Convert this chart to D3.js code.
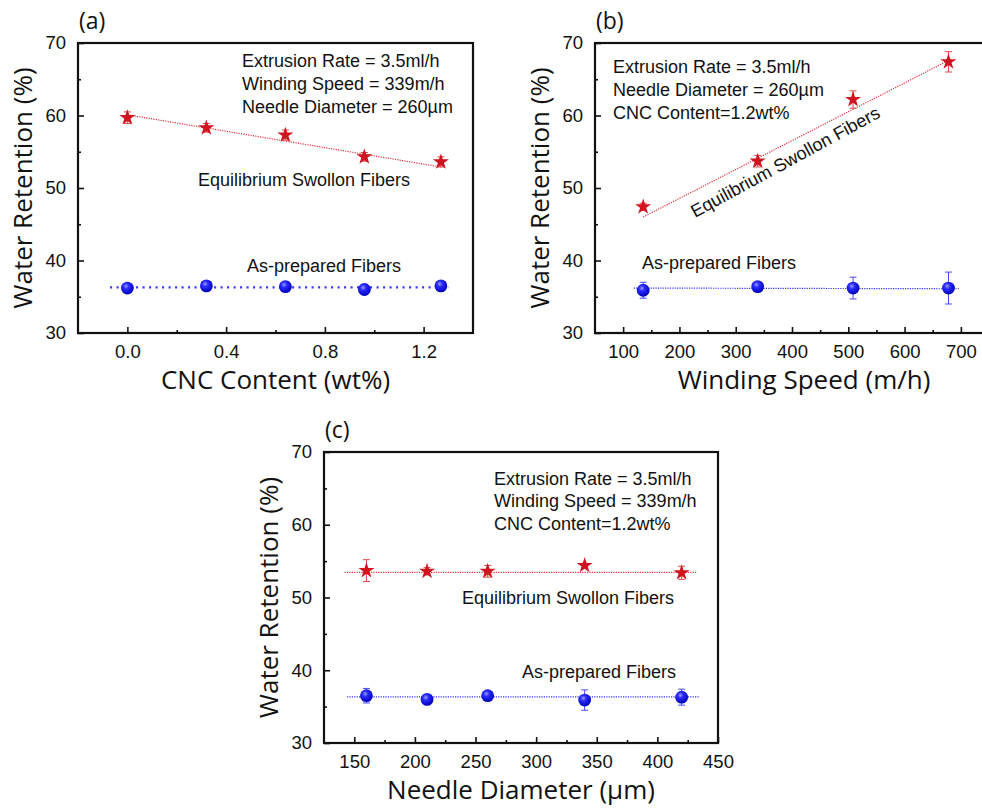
<!DOCTYPE html>
<html>
<head>
<meta charset="utf-8">
<script src="https://cdn.jsdelivr.net/npm/d3@7"></script>
<style>
  body { margin: 0; background: #fff; }
  svg { display: block; }
</style>
</head>
<body>
<div id="chart"></div>
<script>
// (a) water retention vs CNC content
const cncContent = [0, 0.32, 0.64, 0.96, 1.27]
const cncSwollen = [59.7, 58.3, 57.3, 54.3, 53.6]
const cncSwollenErr = [0.8, 0.6, 0.7, 0.6, 0.7]
const cncPrepared = [36.2, 36.5, 36.4, 36.0, 36.5]
const cncPreparedErr = [0.4, 0.4, 0.6, 0.7, 0.3]
const cncSwollenFit = [[0, 60.1], [1.27, 52.9]]
const cncPreparedFit = [[-0.07, 36.3], [1.3, 36.3]]

// (b) water retention vs winding speed
const windingSpeed = [135.6, 339, 508.5, 678]
const windSwollen = [47.4, 53.7, 62.2, 67.4]
const windSwollenErr = [0.5, 0.8, 1.2, 1.4]
const windPrepared = [35.9, 36.4, 36.2, 36.2]
const windPreparedErr = [1.1, 0.3, 1.5, 2.2]
const windSwollenFit = [[135.6, 46.0], [678, 67.6]]
const windPreparedFit = [[119, 36.2], [698, 36.1]]

// (c) water retention vs needle diameter
const needleDiameter = [160, 210, 260, 340, 420]
const needleSwollen = [53.7, 53.6, 53.6, 54.4, 53.4]
const needleSwollenErr = [1.5, 0.5, 0.8, 0.3, 0.9]
const needlePrepared = [36.5, 36.0, 36.5, 35.9, 36.3]
const needlePreparedErr = [1.0, 0.3, 0.3, 1.4, 1.1]
const needleSwollenFit = [[142, 53.45], [433, 53.45]]
const needlePreparedFit = [[144, 36.35], [435, 36.35]]

const yMajor = [30, 40, 50, 60, 70]
const yMinor = [35, 45, 55, 65]

const W = 982, H = 809
const red = "#cf1420"
const tickFont = "'Liberation Sans', Arial, sans-serif"
const titleFont = "'Open Sans', 'DejaVu Sans', sans-serif"

const svg = d3.select("#chart").append("svg")
    .attr("width", W)
    .attr("height", H)

svg.append("rect").attr("width", W).attr("height", H).attr("fill", "#fff")

// shaded sphere for the as-prepared markers
const grad = svg.append("defs").append("radialGradient")
    .attr("id", "sphere")
    .attr("cx", "40%").attr("cy", "35%").attr("r", "65%")
grad.append("stop").attr("offset", "0%").attr("stop-color", "#9a9aff")
grad.append("stop").attr("offset", "35%").attr("stop-color", "#2a2aff")
grad.append("stop").attr("offset", "100%").attr("stop-color", "#0000b8")

function panel(o) {
    const g = svg.append("g")
    const x = d3.scaleLinear().domain(o.xDomain).range([o.left, o.right])
    const y = d3.scaleLinear().domain([30, 70]).range([o.bottom, o.top])

    /* minor ticks (inward) */
    g.append("g")
        .attr("transform", `translate(0, ${o.bottom})`)
        .call(d3.axisBottom(x).tickValues(o.xMinor).tickSize(-3).tickSizeOuter(0).tickFormat(""))
    g.append("g")
        .attr("transform", `translate(${o.left}, 0)`)
        .call(d3.axisLeft(y).tickValues(yMinor).tickSize(-3).tickSizeOuter(0).tickFormat(""))

    /* major ticks + labels */
    g.append("g")
        .attr("transform", `translate(0, ${o.bottom})`)
        .call(d3.axisBottom(x).tickValues(o.xMajor).tickSize(-6).tickSizeOuter(0)
            .tickPadding(12).tickFormat(o.xFormat))
    g.append("g")
        .attr("transform", `translate(${o.left}, 0)`)
        .call(d3.axisLeft(y).tickValues(yMajor).tickSize(-6).tickSizeOuter(0).tickPadding(12))

    g.selectAll(".domain").remove()
    g.selectAll(".tick line").attr("stroke", "#111").attr("stroke-width", 1.6)
    g.selectAll(".tick text")
        .attr("font-family", tickFont)
        .attr("font-size", 18.5)
        .attr("fill", "#111")

    /* frame */
    g.append("rect")
        .attr("x", o.left).attr("y", o.top)
        .attr("width", o.right - o.left).attr("height", o.bottom - o.top)
        .attr("fill", "none").attr("stroke", "#111").attr("stroke-width", 2.2)

    const line = d3.line().x(d => x(d[0])).y(d => y(d[1]))

    /* fitted lines */
    g.append("path").attr("d", line(o.redFit))
        .attr("fill", "none").attr("stroke", "#e0303a").attr("stroke-width", 1.2)
        .attr("stroke-dasharray", "1.2,1.2")
    g.append("path").attr("d", line(o.blueFit))
        .attr("fill", "none").attr("stroke", "#3030ff")
        .attr("stroke-width", o.blueDash ? 2.2 : 1.2)
        .attr("stroke-dasharray", o.blueDash || "1.2,1.2")

    function errorBars(vals, errs, color) {
        const eb = g.append("g").attr("stroke", color).attr("stroke-width", 1)
        o.xs.forEach((xv, i) => {
            if (vals[i] === undefined) return
            const cx = x(xv), y0 = y(vals[i] - errs[i]), y1 = y(vals[i] + errs[i])
            eb.append("line").attr("x1", cx).attr("x2", cx).attr("y1", y0).attr("y2", y1)
            eb.append("line").attr("x1", cx - 3.5).attr("x2", cx + 3.5).attr("y1", y0).attr("y2", y0)
            eb.append("line").attr("x1", cx - 3.5).attr("x2", cx + 3.5).attr("y1", y1).attr("y2", y1)
        })
    }
    errorBars(o.red, o.redErr, "#e04848")
    errorBars(o.blue, o.blueErr, "#4a4aff")

    /* markers */
    g.selectAll(".star").data(o.red).enter().append("path")
        .attr("d", d3.symbol(d3.symbolStar, 80))
        .attr("transform", (d, i) => `translate(${x(o.xs[i])}, ${y(d)})`)
        .attr("fill", red)
    g.selectAll(".ball").data(o.blue).enter().append("circle")
        .attr("cx", (d, i) => x(o.xs[i]))
        .attr("cy", d => y(d))
        .attr("r", 6.4)
        .attr("fill", "url(#sphere)")

    /* axis titles */
    g.append("text")
        .attr("x", (o.left + o.right) / 2 + (o.xTitleShift || 0))
        .attr("y", o.bottom + 56)
        .attr("text-anchor", "middle")
        .attr("font-family", titleFont).attr("font-size", 26).attr("fill", "#111")
        .text(o.xTitle)
    g.append("text")
        .attr("transform", `translate(${o.left - 46}, ${(o.top + o.bottom) / 2}) rotate(-90)`)
        .attr("text-anchor", "middle")
        .attr("font-family", titleFont).attr("font-size", 26).attr("fill", "#111")
        .text("Water Retention (%)")
    g.append("text")
        .attr("x", o.left + 1).attr("y", o.top - 14)
        .attr("font-family", titleFont).attr("font-size", 23).attr("fill", "#111")
        .text(o.tag)

    /* notes */
    o.notes.forEach(n => {
        g.append("text")
            .attr("transform", `translate(${n.x}, ${n.y})` + (n.rot ? ` rotate(${n.rot})` : ""))
            .attr("font-family", tickFont).attr("font-size", 18).attr("fill", "#111")
            .text(n.t)
    })
}

panel({
    tag: "(a)",
    left: 78, right: 473, top: 43, bottom: 333,
    xDomain: [-0.2, 1.4],
    xMajor: [0, 0.4, 0.8, 1.2], xMinor: [0.2, 0.6, 1.0],
    xFormat: d3.format(".1f"),
    xTitle: "CNC Content (wt%)",
    xs: cncContent,
    red: cncSwollen, redErr: cncSwollenErr, redFit: cncSwollenFit,
    blue: cncPrepared, blueErr: cncPreparedErr, blueFit: cncPreparedFit,
    blueDash: "2,4.5",
    notes: [
        { x: 242, y: 67, t: "Extrusion Rate = 3.5ml/h" },
        { x: 242, y: 90, t: "Winding Speed = 339m/h" },
        { x: 242, y: 113, t: "Needle Diameter = 260µm" },
        { x: 198, y: 186, t: "Equilibrium Swollon Fibers" },
        { x: 247, y: 272, t: "As-prepared Fibers" }
    ]
})

panel({
    tag: "(b)",
    left: 595, right: 989, top: 43, bottom: 333,
    xDomain: [50, 750],
    xMajor: [100, 200, 300, 400, 500, 600, 700], xMinor: [150, 250, 350, 450, 550, 650],
    xFormat: d3.format("d"),
    xTitle: "Winding Speed (m/h)",
    xTitleShift: 12,
    xs: windingSpeed,
    red: windSwollen, redErr: windSwollenErr, redFit: windSwollenFit,
    blue: windPrepared, blueErr: windPreparedErr, blueFit: windPreparedFit,
    notes: [
        { x: 613, y: 73, t: "Extrusion Rate = 3.5ml/h" },
        { x: 613, y: 96, t: "Needle Diameter = 260µm" },
        { x: 613, y: 119, t: "CNC Content=1.2wt%" },
        { x: 695, y: 218, t: "Equilibrium Swollon Fibers", rot: -28.5 },
        { x: 642, y: 269, t: "As-prepared Fibers" }
    ]
})

panel({
    tag: "(c)",
    left: 324, right: 718, top: 452, bottom: 743,
    xDomain: [125, 450],
    xMajor: [150, 200, 250, 300, 350, 400, 450], xMinor: [175, 225, 275, 325, 375, 425],
    xFormat: d3.format("d"),
    xTitle: "Needle Diameter (µm)",
    xs: needleDiameter,
    red: needleSwollen, redErr: needleSwollenErr, redFit: needleSwollenFit,
    blue: needlePrepared, blueErr: needlePreparedErr, blueFit: needlePreparedFit,
    notes: [
        { x: 494, y: 485, t: "Extrusion Rate = 3.5ml/h" },
        { x: 494, y: 507, t: "Winding Speed = 339m/h" },
        { x: 494, y: 530, t: "CNC Content=1.2wt%" },
        { x: 462, y: 604, t: "Equilibrium Swollon Fibers" },
        { x: 522, y: 678, t: "As-prepared Fibers" }
    ]
})
</script>
</body>
</html>
